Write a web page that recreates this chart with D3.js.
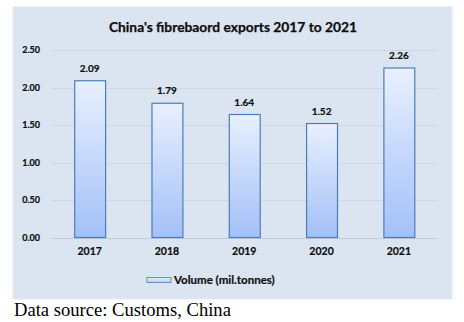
<!DOCTYPE html>
<html>
<head>
<meta charset="utf-8">
<script src="https://cdn.jsdelivr.net/npm/d3@7/dist/d3.min.js"></script>
<style>
  html, body { margin: 0; padding: 0; background: #ffffff; }
  svg { display: block; }
</style>
</head>
<body>
<script>
// Fibreboard export volumes by year
const years = ["2017", "2018", "2019", "2020", "2021"];
const volumes = [2.09, 1.79, 1.64, 1.52, 2.26];
const yTicks = [0, 0.5, 1.0, 1.5, 2.0, 2.5];
const titleText = "China's fibrebaord exports 2017 to 2021";
const legendText = "Volume (mil.tonnes)";
const sourceText = "Data source: Customs, China";

const W = 464, H = 322;
const svg = d3.select("body").append("svg").attr("width", W).attr("height", H);

const defs = svg.append("defs");
const grad = defs.append("linearGradient")
  .attr("id", "barFill").attr("x1", 0).attr("y1", 0).attr("x2", 0).attr("y2", 1);
grad.append("stop").attr("offset", "0%").attr("stop-color", "#e8f0fe");
grad.append("stop").attr("offset", "100%").attr("stop-color", "#a3c0f8");

const legGrad = defs.append("linearGradient")
  .attr("id", "legFill").attr("x1", 0).attr("y1", 0).attr("x2", 0).attr("y2", 1);
legGrad.append("stop").attr("offset", "0%").attr("stop-color", "#e3ecfd");
legGrad.append("stop").attr("offset", "100%").attr("stop-color", "#b9d0fa");

// chart panel
svg.append("rect")
  .attr("x", 13).attr("y", 7).attr("width", 439).attr("height", 292)
  .attr("fill", "#dbe5f1").attr("stroke", "#e4e8ee").attr("stroke-width", 1);

const font = "Lato, 'Open Sans', sans-serif";
const ink = "#0d0d0d";

svg.append("text")
  .attr("x", 233).attr("y", 31.5)
  .attr("text-anchor", "middle")
  .attr("font-family", font).attr("font-weight", "bold").attr("font-size", 13.8)
  .attr("fill", ink).attr("stroke", ink).attr("stroke-width", 0.25)
  .text(titleText);

const x = d3.scaleBand().domain(years).range([51, 437.5]).paddingInner(0.6).paddingOuter(0.3);
const y = d3.scaleLinear().domain([0, 2.5]).range([237.5, 50]);

// gridlines
svg.append("g").selectAll("line").data(yTicks).join("line")
  .attr("x1", 51).attr("x2", 437.5)
  .attr("y1", d => Math.round(y(d)) + 0.5).attr("y2", d => Math.round(y(d)) + 0.5)
  .attr("stroke", d => d === 0 ? "#c3cad4" : "#cdd5e0").attr("stroke-width", 1);

const boldText = sel => sel
  .attr("font-family", font).attr("font-weight", "bold")
  .attr("fill", ink).attr("stroke", ink).attr("stroke-width", 0.2);

// y axis labels
const yAxis = d3.axisLeft(y).tickValues(yTicks).tickFormat(d3.format(".2f")).tickSize(0).tickPadding(0);
const gy = svg.append("g").attr("transform", "translate(40,0)").call(yAxis);
gy.select(".domain").remove();
gy.selectAll("text").call(boldText).attr("font-size", 9);

// x axis labels
const xAxis = d3.axisBottom(x).tickSize(0).tickPadding(0);
const gx = svg.append("g").attr("transform", "translate(0,248)").call(xAxis);
gx.select(".domain").remove();
gx.selectAll("text").call(boldText).attr("font-size", 10.5);

// bars
svg.append("g").selectAll("rect").data(volumes).join("rect")
  .attr("x", (d, i) => x(years[i]) + 0.5)
  .attr("y", d => y(d))
  .attr("width", x.bandwidth())
  .attr("height", d => y(0) - y(d))
  .attr("fill", "url(#barFill)")
  .attr("stroke", "#4a7ebb").attr("stroke-width", 1.2);

// value labels
svg.append("g").selectAll("text").data(volumes).join("text")
  .attr("x", (d, i) => x(years[i]) + x.bandwidth() / 2)
  .attr("y", d => y(d) - 9)
  .attr("text-anchor", "middle")
  .call(boldText).attr("font-size", 10)
  .text(d => d3.format(".2f")(d));

// legend
svg.append("rect")
  .attr("x", 147).attr("y", 277.5).attr("width", 24).attr("height", 5)
  .attr("fill", "url(#legFill)").attr("stroke", "#4a7ebb").attr("stroke-width", 0.8);
svg.append("text")
  .attr("x", 174).attr("y", 284)
  .call(boldText).attr("font-size", 11.5)
  .text(legendText);

// source note
svg.append("text")
  .attr("x", 14).attr("y", 316)
  .attr("font-family", "'Liberation Serif', 'Times New Roman', serif").attr("font-size", 18.6)
  .attr("fill", "#000")
  .text(sourceText);
</script>
</body>
</html>
